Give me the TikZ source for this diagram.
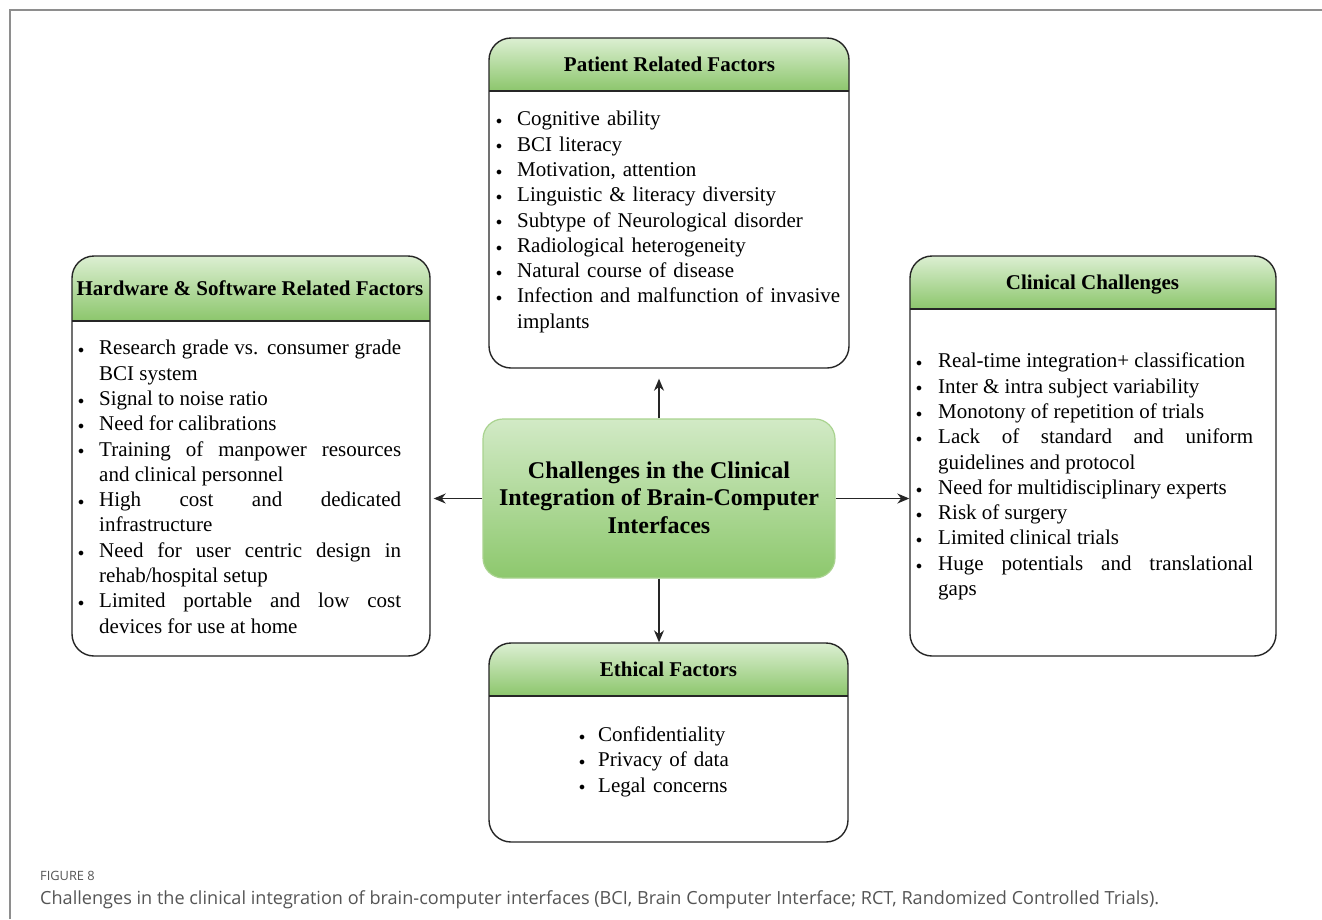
\documentclass[tikz,border=0pt]{standalone}
\usepackage{fontspec}
\setmainfont{Liberation Serif}
\newfontfamily\capfont{Open Sans}
\usetikzlibrary{arrows.meta}
\definecolor{hdrtop}{HTML}{DCEFD2}
\definecolor{hdrbot}{HTML}{8CC66C}
\definecolor{ctop}{HTML}{D2EAC6}
\definecolor{cbot}{HTML}{8DC86D}
\definecolor{cborder}{HTML}{A9D38F}
\definecolor{boxline}{HTML}{262626}
\definecolor{framecol}{HTML}{8E8E8E}
\definecolor{captxt}{HTML}{555555}
\newcommand\bul[1]{\par\noindent\hangindent=#1\hangafter=1\makebox[#1][l]{\kern-1pt\raisebox{1.2pt}{\fontsize{13}{13}\selectfont$\bullet$}}\strut}
\newcommand\headerbox[6]{%
  \begin{scope}
    \clip[rounded corners=22pt] (#2,#3) rectangle (#4,#5);
    \shade[top color=hdrtop, bottom color=hdrbot] (#2,#3) rectangle (#4,#6);
  \end{scope}
  \draw[boxline, line width=1.4pt] (#2,#6) -- (#4,#6);
}
\tikzset{
  framebox/.style={draw=boxline, line width=1.4pt, rounded corners=22pt, inner sep=0pt, fill=none},
  titletext/.style={font=\fontsize{21}{25.3}\selectfont\bfseries, inner sep=0pt, anchor=base},
  bodytext/.style={font=\fontsize{21}{25.3}\selectfont, inner sep=0pt, anchor=north west},
  arr/.style={draw=black!85, line width=1.3pt, -{Stealth[length=12pt,width=10pt]}},
}
\begin{document}
\begin{tikzpicture}[x=1pt,y=-1pt]
\useasboundingbox (0,0) rectangle (1322,919);
\fill[white] (0,0) rectangle (1322,919);
% outer frame lines
\draw[framecol, line width=1.2pt] (10,919) -- (10,10) -- (1322,10);

% Patient box
\headerbox{top}{489}{38}{849}{368}{91}
\node[framebox, minimum width=360pt, minimum height=330pt] (top) at (669,203) {};
\node[titletext] (toptitle) at (669.5,71) {Patient Related Factors};
\node[bodytext, text width=345pt, align=left] (topbody) at (497,100.3) {\hyphenpenalty=10000\parskip=0pt
\bul{20pt}Cognitive ability
\bul{20pt}BCI literacy
\bul{20pt}Motivation, attention
\bul{20pt}Linguistic \& literacy diversity
\bul{20pt}Subtype of Neurological disorder
\bul{20pt}Radiological heterogeneity
\bul{20pt}Natural course of disease
\bul{20pt}Infection and malfunction of invasive implants\par};

% Hardware box
\headerbox{left}{72}{256}{430}{656}{321}
\node[framebox, minimum width=358pt, minimum height=400pt] (left) at (251,456) {};
\node[titletext] (lefttitle) at (250,295) {Hardware \& Software Related Factors};
\node[bodytext, text width=322pt, align=justify] (leftbody) at (79,329.3) {\hyphenpenalty=10000\parskip=0pt
\bul{20pt}Research grade vs. consumer grade\linebreak BCI system
\bul{20pt}Signal to noise ratio
\bul{20pt}Need for calibrations
\bul{20pt}Training of manpower resources\linebreak and clinical personnel
\bul{20pt}High cost and dedicated\linebreak infrastructure
\bul{20pt}Need for user centric design in\linebreak rehab/hospital setup
\bul{20pt}Limited portable and low cost\linebreak devices for use at home\par};

% Clinical box
\headerbox{right}{910}{256}{1276}{656}{309}
\node[framebox, minimum width=366pt, minimum height=400pt] (right) at (1093,456) {};
\node[titletext] (righttitle) at (1092.5,289.3) {Clinical Challenges};
\node[bodytext, text width=336pt, align=justify] (rightbody) at (917,342.3) {\hyphenpenalty=10000\parskip=0pt
\bul{21pt}Real-time integration+ classification
\bul{21pt}Inter \& intra subject variability
\bul{21pt}Monotony of repetition of trials
\bul{21pt}Lack of standard and uniform\linebreak guidelines and protocol
\bul{21pt}Need for multidisciplinary experts
\bul{21pt}Risk of surgery
\bul{21pt}Limited clinical trials
\bul{21pt}Huge potentials and translational\linebreak gaps\par};

% Ethical box
\headerbox{bot}{489}{643}{848}{842}{696}
\node[framebox, minimum width=359pt, minimum height=199pt] (bot) at (668.5,742.5) {};
\node[titletext] (bottitle) at (668.5,676.7) {Ethical Factors};
\node[bodytext, text width=200pt, align=left] (botbody) at (580,716) {\hyphenpenalty=10000\parskip=0pt
\bul{18pt}Confidentiality
\bul{18pt}Privacy of data
\bul{18pt}Legal concerns\par};

% Center box
\node[draw=cborder, line width=1.2pt, rounded corners=20pt, top color=ctop, bottom color=cbot,
      minimum width=352pt, minimum height=159pt, inner sep=0pt] (center) at (659,498.5) {};
\node[font=\fontsize{24}{27.7}\selectfont\bfseries, align=center, inner sep=0pt, anchor=north]
  (centertext) at (659,458.6) {\strut Challenges in the Clinical\\Integration of Brain-Computer\\Interfaces};

% Arrows
\draw[arr] (center.north) -- ([yshift=-10pt]center.north |- top.south);
\draw[arr] (center.south) -- (center.south |- bot.north);
\draw[arr] (center.west) -- ([xshift=3pt]center.west -| left.east);
\draw[arr] (center.east) -- (center.east -| right.west);

% Caption
\node[font=\capfont\fontsize{12.8}{15}\selectfont, text=captxt, anchor=base west, inner sep=0pt] (figlabel) at (40,880) {FIGURE 8};
\node[font=\capfont\fontsize{18.1}{22}\selectfont, text=captxt, anchor=base west, inner sep=0pt] (caption) at (40,904) {Challenges in the clinical integration of brain-computer interfaces (BCI, Brain Computer Interface; RCT, Randomized Controlled Trials).};
\end{tikzpicture}
\end{document}
